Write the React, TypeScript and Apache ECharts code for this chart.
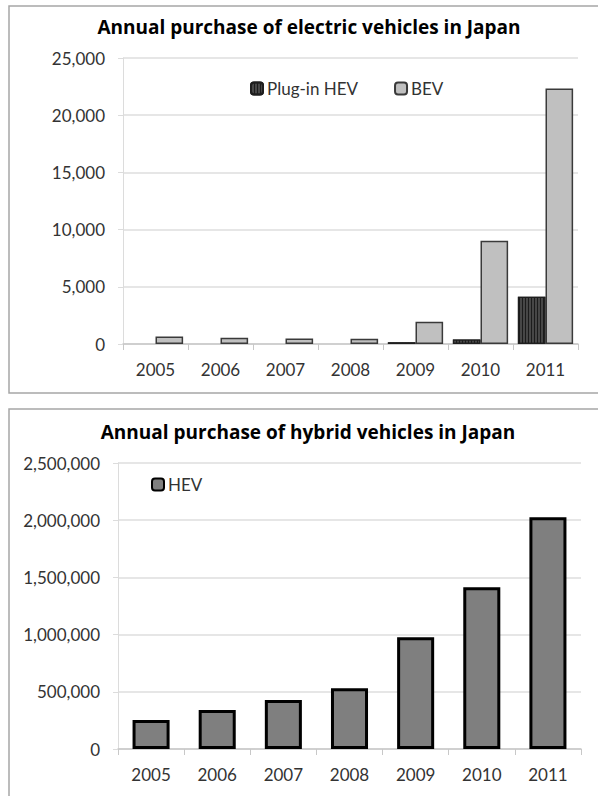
import React, { useEffect, useRef } from "react";
import * as echarts from "echarts";

const years = ["2005", "2006", "2007", "2008", "2009", "2010", "2011"];
const phevValues: (number | null)[] = [null, null, null, null, 150, 400, 4130];
const bevValues = [650, 550, 470, 450, 1950, 9030, 22330];
const hevValues = [253000, 341000, 428000, 531000, 976000, 1413000, 2025000];
const titleTop = "Annual purchase of electric vehicles in Japan";
const titleBottom = "Annual purchase of hybrid vehicles in Japan";

const FONT = "Lato, 'Open Sans', sans-serif";
const TITLE_FONT = "'Open Sans', Lato, sans-serif";
const fmt = (v: number) => v.toLocaleString("en-US");

export default function App() {
  const ref = useRef<HTMLDivElement>(null);
  useEffect(() => {
    document.body.style.margin = "0";
    const chart = echarts.init(ref.current!, undefined, { renderer: "svg" });
    const axisLabel = { color: "#333", fontFamily: FONT, fontSize: 17 };
    chart.setOption({
      animation: false,
      backgroundColor: "#fff",
      textStyle: { fontFamily: FONT },
      graphic: [
        { type: "rect", shape: { x: 9, y: 6, width: 620, height: 387 }, style: { fill: "none", stroke: "#a6a6a6", lineWidth: 1.5 }, silent: true },
        { type: "rect", shape: { x: 9, y: 409, width: 620, height: 420 }, style: { fill: "none", stroke: "#a6a6a6", lineWidth: 1.5 }, silent: true },
        { type: "text", x: 309, y: 27, style: { text: titleTop, font: `bold 19px ${TITLE_FONT}`, fill: "#000", textAlign: "center", textVerticalAlign: "middle" } },
        { type: "text", x: 308, y: 432, style: { text: titleBottom, font: `bold 19px ${TITLE_FONT}`, fill: "#000", textAlign: "center", textVerticalAlign: "middle" } },
      ],
      legend: [
        {
          data: ["Plug-in HEV", "BEV"],
          left: 245, top: 75, itemWidth: 12, itemHeight: 12, itemGap: 36,
          textStyle: { color: "#333", fontFamily: FONT, fontSize: 17, padding: [0, 0, 0, -1] },
        },
        {
          data: ["HEV"],
          left: 146, top: 471, itemWidth: 12, itemHeight: 12,
          textStyle: { color: "#333", fontFamily: FONT, fontSize: 17, padding: [0, 0, 0, -1] },
        },
      ],
      grid: [
        { left: 123, top: 58, width: 455, height: 286, containLabel: false },
        { left: 118, top: 463, width: 463, height: 286, containLabel: false },
      ],
      xAxis: [0, 1].map((i) => ({
        type: "category",
        gridIndex: i,
        data: years,
        axisLine: { lineStyle: { color: "#c8c8c8", width: 1.5 } },
        axisTick: { show: true, length: 6, lineStyle: { color: "#c8c8c8" } },
        axisLabel: { ...axisLabel, margin: 17 },
      })),
      yAxis: [
        { type: "value", gridIndex: 0, min: 0, max: 25000, interval: 5000 },
        { type: "value", gridIndex: 1, min: 0, max: 2500000, interval: 500000 },
      ].map((a) => ({
        ...a,
        axisLine: { show: true, lineStyle: { color: "#dcdcdc" } },
        axisTick: { show: true, length: 5, lineStyle: { color: "#dcdcdc" } },
        splitLine: { lineStyle: { color: "#dedede", width: 1.5 } },
        axisLabel: { ...axisLabel, margin: 18, formatter: fmt },
      })),
      series: [
        {
          name: "Plug-in HEV", type: "bar", xAxisIndex: 0, yAxisIndex: 0,
          data: phevValues, barGap: "0%", barCategoryGap: "15%",
          itemStyle: {
            color: "#474747", borderColor: "#1e1e1e", borderWidth: 1.2,
            decal: { symbol: "rect", symbolSize: 1, dashArrayX: [1, 2], dashArrayY: [10, 0], color: "#1c1c1c", backgroundColor: "#474747" },
          },
        },
        {
          name: "BEV", type: "bar", xAxisIndex: 0, yAxisIndex: 0,
          data: bevValues, barGap: "0%", barCategoryGap: "15%",
          itemStyle: { color: "#c0c0c0", borderColor: "#3a3a3a", borderWidth: 1.5 },
        },
        {
          name: "HEV", type: "bar", xAxisIndex: 1, yAxisIndex: 1,
          data: hevValues, barCategoryGap: "44%",
          itemStyle: { color: "#7f7f7f", borderColor: "#000", borderWidth: 3 },
        },
      ],
    });
    return () => chart.dispose();
  }, []);
  return <div ref={ref} style={{ position: "absolute", left: 0, top: 0, width: 598, height: 796 }} />;
}
